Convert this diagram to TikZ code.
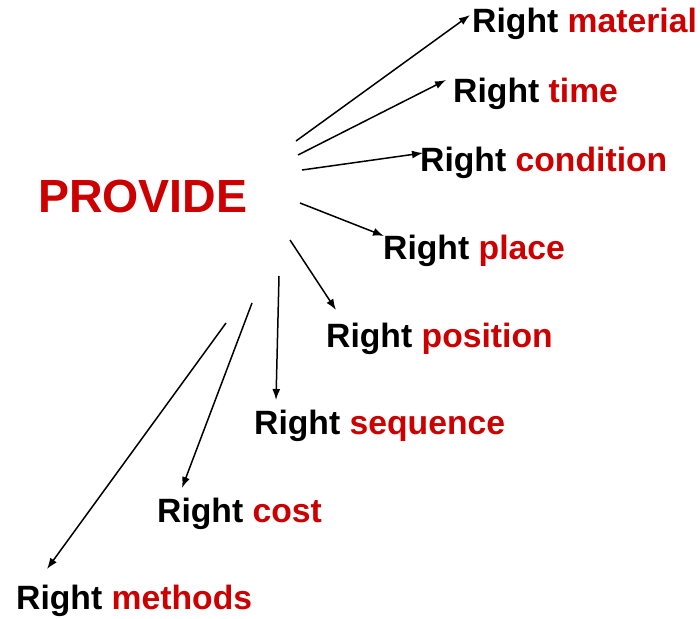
\documentclass[tikz,border=0pt]{standalone}
\usepackage{fontspec}
\setmainfont{Liberation Sans}
\usetikzlibrary{arrows.meta}
\definecolor{provred}{HTML}{CC0000}
\tikzset{
  lbl/.style={anchor=base west, inner sep=0pt, font=\fontsize{33.7}{36}\selectfont\bfseries, text=black},
  title/.style={anchor=base west, inner sep=0pt, font=\fontsize{46.5}{50}\selectfont\bfseries, text=provred},
  conn/.style={line width=1.5pt, -{Latex[length=11pt,width=8pt]}}
}
\newcommand{\rw}[1]{Right {\color{provred}#1}}
\begin{document}
\begin{tikzpicture}[x=1pt,y=-1pt]
\useasboundingbox (0,0) rectangle (700,618);
\node[title] (prov) at (38,212) {PROVIDE};
\node[lbl] (mat) at (472,33) {\rw{material}};
\node[lbl] (tim) at (453,102) {\rw{time}};
\node[lbl] (con) at (420,171) {\rw{condition}};
\node[lbl] (pla) at (383,259) {\rw{place}};
\node[lbl] (pos) at (326,347) {\rw{position}};
\node[lbl] (seq) at (254,434) {\rw{sequence}};
\node[lbl] (cos) at (157,522) {\rw{cost}};
\node[lbl] (met) at (16,609) {\rw{methods}};
% start points near PROVIDE
\coordinate (s1) at (296,141);
\coordinate (s2) at (298,155);
\coordinate (s3) at (302,170);
\coordinate (s4) at (300,203);
\coordinate (s5) at (290,240);
\coordinate (s6) at (279,276);
\coordinate (s7) at (252,303);
\coordinate (s8) at (226,323);
% end points at labels
\coordinate (e1) at (470,15);
\coordinate (e2) at (446,80);
\coordinate (e3) at (423,153);
\coordinate (e4) at (384,236);
\coordinate (e5) at (336,310);
\coordinate (e6) at (276,400);
\coordinate (e7) at (182,488);
\coordinate (e8) at (47,569);
\draw[conn] (s1) -- (e1);
\draw[conn] (s2) -- (e2);
\draw[conn] (s3) -- (e3);
\draw[conn] (s4) -- (e4);
\draw[conn] (s5) -- (e5);
\draw[conn] (s6) -- (e6);
\draw[conn] (s7) -- (e7);
\draw[conn] (s8) -- (e8);
\end{tikzpicture}
\end{document}
